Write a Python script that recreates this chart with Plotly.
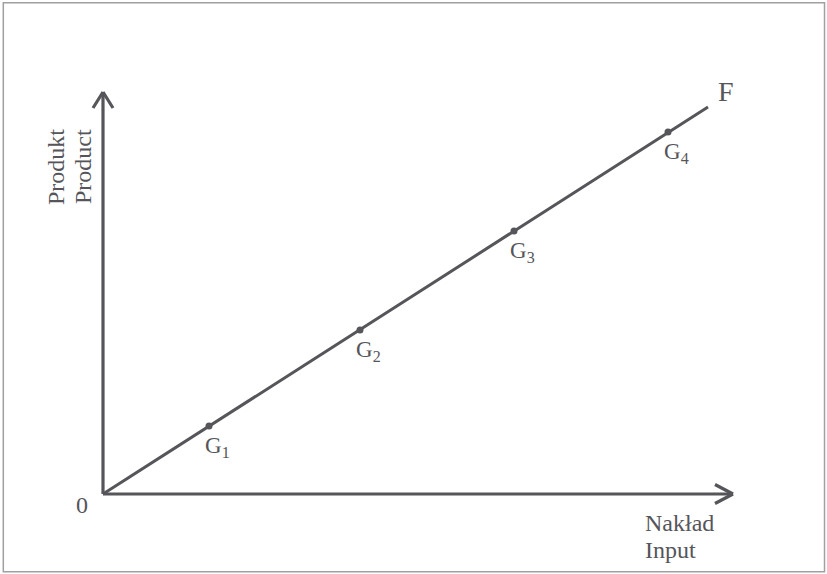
import plotly.graph_objects as go

# Data (input vs product)
point_labels = ["G<sub>1</sub>", "G<sub>2</sub>", "G<sub>3</sub>", "G<sub>4</sub>"]
input_values = [106, 257, 411, 565]
product_values = [68, 164, 263, 362]
line_x = [0, 605]
line_y = [0, 387]
curve_label = "F"
x_title = ["Nakład", "Input"]
y_title = ["Produkt", "Product"]

ink = "#55555a"
font = "Liberation Serif"

fig = go.Figure()
fig.add_trace(go.Scatter(x=line_x, y=line_y, mode="lines",
                         line=dict(color=ink, width=3), hoverinfo="skip"))
fig.add_trace(go.Scatter(x=input_values, y=product_values, mode="markers",
                         marker=dict(color=ink, size=7), hoverinfo="skip"))

# axes with open arrowheads
axis_style = dict(color=ink, width=3.2)
shapes = [
    dict(type="line", x0=0, y0=0, x1=0, y1=402, line=axis_style),
    dict(type="line", x0=-10, y0=386, x1=0, y1=402, line=axis_style),
    dict(type="line", x0=10, y0=386, x1=0, y1=402, line=axis_style),
    dict(type="line", x0=0, y0=0, x1=630, y1=0, line=axis_style),
    dict(type="line", x0=612, y0=9.5, x1=630, y1=0, line=axis_style),
    dict(type="line", x0=612, y0=-9.5, x1=630, y1=0, line=axis_style),
    dict(type="rect", xref="paper", yref="paper", x0=0.004, y0=0.004, x1=0.997, y1=0.995,
         line=dict(color="#a0a0a0", width=1.5)),
]

annotations = []
for lab, x, y in zip(point_labels, input_values, product_values):
    annotations.append(dict(x=x, y=y, text=lab, showarrow=False, xanchor="left", yanchor="top",
                            xshift=-6, yshift=-5, font=dict(family=font, size=23, color=ink)))
annotations += [
    dict(x=line_x[1], y=line_y[1], text=curve_label, showarrow=False, xanchor="left", yanchor="bottom",
         xshift=8, yshift=-2, font=dict(family=font, size=28, color=ink)),
    dict(x=-21, y=-11, text="0", showarrow=False, xanchor="center", yanchor="middle",
         font=dict(family=font, size=24, color=ink)),
    dict(x=541, y=-15, text=x_title[0], showarrow=False, xanchor="left", yanchor="top",
         font=dict(family=font, size=24, color=ink), borderpad=0),
    dict(x=541, y=-42, text=x_title[1], showarrow=False, xanchor="left", yanchor="top",
         font=dict(family=font, size=24, color=ink), borderpad=0),
    dict(x=-47, y=327, text=y_title[0], showarrow=False, textangle=-90, xanchor="center", yanchor="middle",
         font=dict(family=font, size=24, color=ink)),
    dict(x=-20, y=327, text=y_title[1], showarrow=False, textangle=-90, xanchor="center", yanchor="middle",
         font=dict(family=font, size=24, color=ink)),
]

fig.update_layout(
    width=827, height=574,
    margin=dict(l=0, r=0, t=0, b=0),
    paper_bgcolor="white", plot_bgcolor="white",
    showlegend=False,
    xaxis=dict(range=[-103, 724], visible=False, fixedrange=True),
    yaxis=dict(range=[-80, 494], visible=False, fixedrange=True),
    shapes=shapes,
    annotations=annotations,
)

fig.write_html("out.html", config={"displayModeBar": False},
               post_script="document.body.style.margin='0';document.body.style.overflow='hidden';")
